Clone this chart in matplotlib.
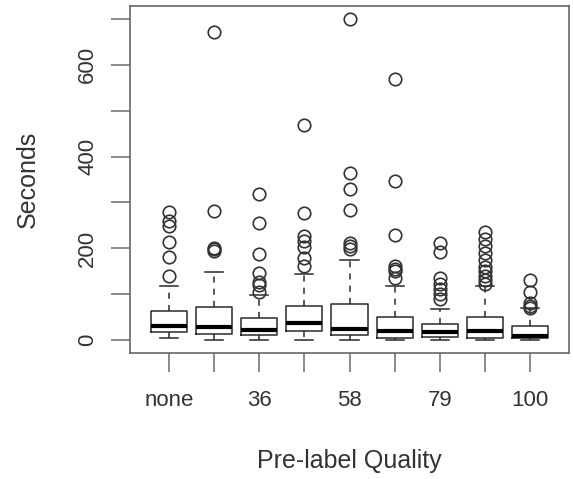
import matplotlib
matplotlib.use('Agg')
import matplotlib.pyplot as plt

plt.rcParams['font.family'] = ['Liberation Sans', 'DejaVu Sans']

# categories (every other label is hidden, as R drops overlapping labels)
categories = ['none', '25', '36', '47', '58', '68', '79', '89', '100']
shown = ['none', '', '36', '', '58', '', '79', '', '100']

# box statistics (seconds)
q1 = [17, 14, 12, 20, 11, 5, 6, 5, 4]
med = [30, 28, 22, 38, 24, 19, 17, 19, 9]
q3 = [63, 72, 48, 75, 78, 51, 35, 51, 30]
whislo = [4, 1, 1, 1, 1, 1, 1, 1, 1]
whishi = [117, 149, 98, 145, 175, 117, 68, 117, 69]
fliers = [
    [140, 182, 214, 248, 259, 280],
    [195, 198, 200, 282, 672],
    [104, 120, 127, 146, 188, 256, 319],
    [162, 180, 202, 216, 227, 276, 469],
    [198, 205, 212, 283, 330, 364, 699],
    [136, 151, 156, 162, 230, 346, 570],
    [89, 100, 111, 122, 136, 191, 211],
    [122, 130, 140, 150, 160, 175, 190, 205, 220, 235],
    [70, 75, 80, 104, 130],
]

stats = []
for i, name in enumerate(categories):
    stats.append(dict(label=name, q1=q1[i], med=med[i], q3=q3[i],
                      whislo=whislo[i], whishi=whishi[i], fliers=fliers[i]))

fig = plt.figure(figsize=(5.73, 4.79), dpi=100)
ax = fig.add_axes([130 / 573, 1 - 353 / 479, (569 - 130) / 573, (353 - 6) / 479])

line_col = '#2a2a2a'
ax.bxp(stats, positions=range(1, 10), widths=0.8, patch_artist=False,
       boxprops=dict(color=line_col, linewidth=1.1),
       medianprops=dict(color='black', linewidth=3, solid_capstyle='butt'),
       whiskerprops=dict(color=line_col, linewidth=1.1, linestyle=(0, (4, 4))),
       capprops=dict(color=line_col, linewidth=1.1),
       capwidths=0.4,
       flierprops=dict(marker='o', markersize=9, markerfacecolor='none',
                       markeredgecolor='#333333', markeredgewidth=1.2))

ax.set_xlim(0.14, 9.86)
ax.set_ylim(-28, 728)

ax.set_xticks(range(1, 10))
ax.set_xticklabels(shown)
ax.set_yticks(range(0, 701, 100))
ax.set_yticklabels([str(v) if v % 200 == 0 else '' for v in range(0, 701, 100)],
                   rotation=90, va='center')

for s in ax.spines.values():
    s.set_color('#666666')
    s.set_linewidth(1.2)
ax.tick_params(axis='both', length=14, width=1.2, color='#777777',
               labelsize=16, labelcolor='#333333')
ax.tick_params(axis='x', pad=13)
ax.tick_params(axis='y', pad=9)

ax.set_xlabel('Pre-label Quality', fontsize=18, color='#333333', labelpad=27)
ax.set_ylabel('Seconds', fontsize=18, color='#333333', labelpad=27)

fig.savefig('out.png', dpi=100)
